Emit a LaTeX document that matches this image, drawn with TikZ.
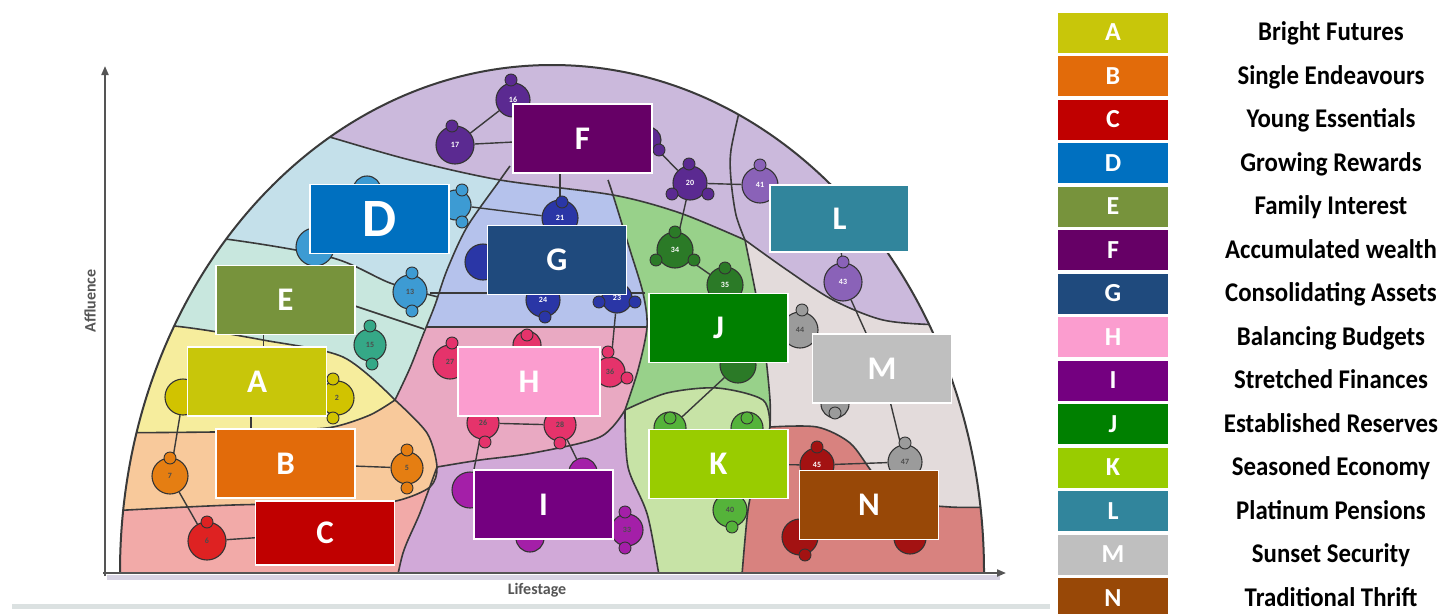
\documentclass[tikz,border=0pt]{standalone}
\usepackage{fontspec}
\setmainfont{Carlito}
\newfontfamily\legfont{Carlito}[FakeStretch=0.92]
\usetikzlibrary{arrows.meta}
\pgfdeclarelayer{regions}
\pgfdeclarelayer{conn}
\pgfdeclarelayer{dots}
\pgfsetlayers{regions,conn,dots,main}
% box colours
\definecolor{bA}{HTML}{C8C60A}
\definecolor{bB}{HTML}{E26B0A}
\definecolor{bC}{HTML}{C00000}
\definecolor{bD}{HTML}{0070C0}
\definecolor{bE}{HTML}{77933C}
\definecolor{bF}{HTML}{660066}
\definecolor{bG}{HTML}{1F4A7D}
\definecolor{bH}{HTML}{FB9DCF}
\definecolor{bI}{HTML}{740080}
\definecolor{bJ}{HTML}{008000}
\definecolor{bK}{HTML}{99CC00}
\definecolor{bL}{HTML}{31859C}
\definecolor{bM}{HTML}{BFBFBF}
\definecolor{bN}{HTML}{984807}
% region colours
\definecolor{rF}{HTML}{CBB9DC}
\definecolor{rD}{HTML}{C4E0EA}
\definecolor{rE}{HTML}{C8E7DE}
\definecolor{rG}{HTML}{B5C2EC}
\definecolor{rJ}{HTML}{98D18A}
\definecolor{rH}{HTML}{E9A9C2}
\definecolor{rI}{HTML}{D1A9D8}
\definecolor{rK}{HTML}{C7E3A6}
\definecolor{rM}{HTML}{E3DBDB}
\definecolor{rN}{HTML}{D8827F}
\definecolor{rA}{HTML}{F6ED9D}
\definecolor{rB}{HTML}{F8C99B}
\definecolor{rC}{HTML}{F2AAA8}
% dot colours
\definecolor{pF}{HTML}{5B2A91}
\definecolor{pL}{HTML}{8A62B8}
\definecolor{pG}{HTML}{2A36A6}
\definecolor{pD}{HTML}{3D9BD3}
\definecolor{pE}{HTML}{35A887}
\definecolor{pA}{HTML}{D1C300}
\definecolor{pB}{HTML}{E57E12}
\definecolor{pC}{HTML}{DE2222}
\definecolor{pH}{HTML}{E5336B}
\definecolor{pI}{HTML}{A41FA8}
\definecolor{pJ}{HTML}{2B7A27}
\definecolor{pK}{HTML}{55B33A}
\definecolor{pM}{HTML}{9B9B9B}
\definecolor{pN}{HTML}{A31212}
\definecolor{axgrey}{HTML}{555555}
\definecolor{edge}{HTML}{3A3A3A}
\definecolor{strip}{HTML}{D8D4E4}
\definecolor{barg}{HTML}{DBE1E1}
\begin{document}
\begin{tikzpicture}[x=1pt,y=-1pt,
  lab/.style={draw=white,line width=1.2pt,minimum width=139pt,minimum height=69pt,inner sep=0pt,text=white,font=\fontsize{33}{33}\selectfont\bfseries},
  legbox/.style={minimum width=110pt,minimum height=40pt,inner sep=0pt,text=white,font=\fontsize{26}{26}\selectfont\bfseries},
  legtxt/.style={anchor=base,inner sep=0pt,text=black,font=\legfont\fontsize{27}{27}\selectfont\bfseries},
  blob/.style={circle,draw=black!80,line width=1.1pt,inner sep=0pt,minimum size=#1,font=\fontsize{8}{8}\selectfont\bfseries},
  sat/.style={circle,draw=black!80,line width=0.9pt,inner sep=0pt,minimum size=12pt},
  con/.style={draw=edge,line width=1.4pt},
  bl/.style={draw=edge,line width=1.6pt},
  axis/.style={draw=axgrey,line width=2pt,-{Triangle[length=9pt,width=7pt]}},
  axlab/.style={text=axgrey,font=\fontsize{16}{16}\selectfont\bfseries,inner sep=0pt}]
\useasboundingbox (0,0) rectangle (1450,613);

% ---------- label boxes ----------
\node[lab,fill=bF] (F) at (582.5,138.5) {F};
\node[lab,fill=bD,font=\fontsize{54}{54}\selectfont\bfseries] (D) at (379.5,219) {D};
\node[lab,fill=bG] (G) at (557,260) {G};
\node[lab,fill=bE] (E) at (285.5,300) {E};
\node[lab,fill=bA] (A) at (257,381.5) {A};
\node[lab,fill=bB] (B) at (285.5,463.5) {B};
\node[lab,fill=bC,minimum height=64pt] (C) at (325,533) {C};
\node[lab,fill=bH,minimum width=142pt] (H) at (529,381.5) {H};
\node[lab,fill=bI] (I) at (543.5,504.5) {I};
\node[lab,fill=bJ] (J) at (718.5,328) {J};
\node[lab,fill=bK] (K) at (718.5,464) {K};
\node[lab,fill=bL,minimum height=67pt] (L) at (839.5,218.5) {L};
\node[lab,fill=bM] (M) at (882,368.5) {M};
\node[lab,fill=bN] (N) at (869,505) {N};

% ---------- small segment dots ----------
\begin{pgfonlayer}{dots}
% F / L
\node[blob=34pt,fill=pF,text=white!60] (n16) at (513,100) {16};
\node[sat,fill=pF] (n16s) at (511,80) {};
\node[blob=38pt,fill=pF,text=white!60] (n17) at (455,145) {17};
\node[sat,fill=pF] (n17s) at (452,126) {};
\node[blob=26pt,fill=pF] (n27f) at (648,140) {};
\node[sat,fill=pF] (n27fs) at (659,150) {};
\node[blob=34pt,fill=pF,text=white!60] (n20) at (690,183) {20};
\node[sat,fill=pF] (n20a) at (689,164) {};
\node[sat,fill=pF] (n20b) at (672,194) {};
\node[sat,fill=pF] (n20c) at (708,194) {};
\node[blob=36pt,fill=pL,text=white!60] (n41) at (760,185) {41};
\node[sat,fill=pL] (n41s) at (760,165) {};
\node[blob=38pt,fill=pL,text=white!60] (n43) at (843,282) {43};
\node[sat,fill=pL] (n43s) at (843,262) {};
% D
\node[blob=28pt,fill=pD] (d1) at (367,190) {};
\node[blob=30pt,fill=pD] (d2) at (456,205) {};
\node[sat,fill=pD] (d2a) at (462,190) {};
\node[sat,fill=pD] (d2b) at (462,222) {};
\node[blob=38pt,fill=pD] (d3) at (315,247) {};
\node[blob=34pt,fill=pD,text=black!70] (n13) at (410,292) {13};
\node[sat,fill=pD] (n13a) at (412,273) {};
\node[sat,fill=pD] (n13b) at (412,311) {};
% E
\node[blob=32pt,fill=pE,text=black!70] (n15) at (370,345) {15};
\node[sat,fill=pE] (n15a) at (370,326) {};
\node[sat,fill=pE] (n15b) at (372,364) {};
% G
\node[blob=36pt,fill=pG,text=white!60] (n21) at (560,218) {21};
\node[sat,fill=pG] (n21s) at (562,202) {};
\node[blob=36pt,fill=pG] (g2) at (483,262) {};
\node[blob=34pt,fill=pG,text=white!60] (n24) at (543,300) {24};
\node[sat,fill=pG] (n24s) at (545,317) {};
\node[blob=30pt,fill=pG,text=white!60] (n23) at (617,298) {23};
\node[sat,fill=pG] (n23a) at (599,302) {};
\node[sat,fill=pG] (n23b) at (635,302) {};
% A
\node[blob=36pt,fill=pA] (a1) at (183,397) {};
\node[blob=34pt,fill=pA,text=black!70] (n2) at (337,398) {2};
\node[sat,fill=pA] (n2a) at (333,379) {};
\node[sat,fill=pA] (n2b) at (333,418) {};
% B
\node[blob=36pt,fill=pB,text=black!70] (n7) at (170,476) {7};
\node[sat,fill=pB] (n7s) at (170,458) {};
\node[blob=32pt,fill=pB,text=black!70] (n5) at (407,468) {5};
\node[sat,fill=pB] (n5a) at (407,450) {};
\node[sat,fill=pB] (n5b) at (407,488) {};
% C
\node[blob=38pt,fill=pC,text=black!70] (n6) at (207,541) {6};
\node[sat,fill=pC] (n6s) at (207,522) {};
% H
\node[blob=34pt,fill=pH,text=black!70] (n27) at (450,362) {27};
\node[sat,fill=pH] (n27s) at (452,343) {};
\node[blob=28pt,fill=pH] (h2) at (527,345) {};
\node[sat,fill=pH] (h2s) at (527,335) {};
\node[blob=30pt,fill=pH,text=black!70] (n36) at (610,372) {36};
\node[sat,fill=pH] (n36a) at (608,352) {};
\node[sat,fill=pH] (n36b) at (627,378) {};
\node[blob=32pt,fill=pH,text=black!70] (n26) at (483,423) {26};
\node[sat,fill=pH] (n26s) at (485,442) {};
\node[blob=32pt,fill=pH,text=black!70] (n28) at (560,425) {28};
\node[sat,fill=pH] (n28s) at (560,443) {};
% I
\node[blob=36pt,fill=pI] (i1) at (470,490) {};
\node[blob=28pt,fill=pI] (i2) at (583,472) {};
\node[blob=32pt,fill=pI,text=black!70] (n33) at (627,530) {33};
\node[sat,fill=pI] (n33a) at (625,512) {};
\node[sat,fill=pI] (n33b) at (625,548) {};
\node[blob=28pt,fill=pI] (i4) at (530,538) {};
% J
\node[blob=36pt,fill=pJ,text=white!55] (n34) at (675,250) {34};
\node[sat,fill=pJ] (n34a) at (675,232) {};
\node[sat,fill=pJ] (n34b) at (656,260) {};
\node[sat,fill=pJ] (n34c) at (694,260) {};
\node[blob=36pt,fill=pJ,text=white!55] (n35) at (725,285) {35};
\node[sat,fill=pJ] (n35s) at (725,268) {};
\node[blob=36pt,fill=pJ] (j3) at (738,365) {};
% K
\node[blob=32pt,fill=pK] (k1) at (670,428) {};
\node[sat,fill=pK] (k1s) at (670,418) {};
\node[blob=32pt,fill=pK] (k2) at (747,428) {};
\node[sat,fill=pK] (k2s) at (747,418) {};
\node[blob=34pt,fill=pK,text=black!70] (n40) at (730,510) {40};
\node[sat,fill=pK] (n40s) at (732,527) {};
% M
\node[blob=36pt,fill=pM,text=black!70] (n44) at (800,330) {44};
\node[sat,fill=pM] (n44s) at (802,310) {};
\node[blob=28pt,fill=pM] (m2) at (835,404) {};
\node[sat,fill=pM] (m2s) at (835,413) {};
\node[blob=34pt,fill=pM,text=black!70] (n47) at (905,462) {47};
\node[sat,fill=pM] (n47s) at (905,443) {};
% N
\node[blob=34pt,fill=pN,text=white!55] (n45) at (817,465) {45};
\node[sat,fill=pN] (n45s) at (817,447) {};
\node[blob=36pt,fill=pN] (nn1) at (800,537) {};
\node[sat,fill=pN] (nn1s) at (805,555) {};
\node[blob=32pt,fill=pN] (nn2) at (910,538) {};
\end{pgfonlayer}

% ---------- connectors ----------
\begin{pgfonlayer}{conn}
\draw[con] (n17) -- (n16);
\draw[con] (n17) -- (F);
\draw[con] (F) -- (n27f);
\draw[con] (n27f) -- (n20);
\draw[con] (n20) -- (n41);
\draw[con] (n20) -- (n34);
\draw[con] (n34) -- (n35);
\draw[con] (n21) -- (n21 |- F.south);
\draw[con] (d2) -- (n21);
\draw[con] (L) -- (n43);
\draw[con] (n43) -- (M);
\draw[con] (M) -- (n47);
\draw[con] (n47) -- (n45);
\draw[con] (n45) -- (K);
\draw[con] ([xshift=-22pt]E.south) -- ([xshift=-22pt]E.south |- A.north);
\draw[con] ([xshift=-6pt]A.south) -- ([xshift=-6pt]A.south |- B.north);
\draw[con] (a1) -- (n7);
\draw[con] (n7) -- (n6);
\draw[con] (n6) -- (C);
\draw[con] (B) -- (n5);
\draw[con] (n26) -- (n28);
\draw[con] (n26) -- (i1);
\draw[con] (n28) -- (i2);
\draw[con] (n23) -- (n36);
\draw[con] (j3) -- (k1);
\end{pgfonlayer}

% ---------- regions ----------
\begin{pgfonlayer}{regions}
\fill[white] (0,0) rectangle (1450,613);
\begin{scope}
\clip (120,572) arc[start angle=180,end angle=0,x radius=432pt,y radius=507pt] -- cycle;
\fill[rD] (0,0) rectangle (1100,700);
\begin{scope}
\clip (100,0) -- (510,0) -- plot[smooth] coordinates {(510,166) (500,180) (467,227) (447,270) (435,305) (423,335) (410,368) (395,400)} -- (395,700) -- (0,700) -- cycle;
\fill[rE] plot[smooth] coordinates {(90,224) (233,240) (333,258) (390,283) (438,297)} -- (520,297) -- (520,700) -- (90,700) -- cycle;
\fill[rA] plot[smooth] coordinates {(90,319) (183,327) (263,340) (343,357) (395,400)} -- (395,700) -- (90,700) -- cycle;
\end{scope}
\begin{scope}
\clip (510,0) -- plot[smooth] coordinates {(510,166) (500,180) (467,227) (447,270) (435,305) (423,335) (410,368) (395,400)} -- (395,700) -- (1100,700) -- (1100,0) -- cycle;
\fill[rG] (0,0) rectangle (1100,700);
\fill[rH] (0,327) rectangle (1100,700);
\fill[rJ] plot[smooth] coordinates {(608,180) (613,195) (630,250) (643,293) (647,327) (638,370) (625,410)} -- (625,700) -- (1100,700) -- (1100,0) -- (608,0) -- cycle;
\fill[rM] plot[smooth] coordinates {(745,240) (757,300) (765,350) (770,400) (770,427)} -- (770,700) -- (1100,700) -- (1100,200) -- cycle;
\fill[rN] plot[smooth] coordinates {(770,427) (817,427) (850,443) (873,473) (900,500) (950,507) (1000,507)} -- (1100,507) -- (1100,700) -- (700,700) -- (700,427) -- cycle;
\fill[rI] plot[smooth] coordinates {(437,467) (480,460) (533,453) (600,437) (625,410)} -- (700,410) -- (700,700) -- (380,700) -- (380,475) -- cycle;
\fill[rK] plot[smooth] coordinates {(625,410) (628,467) (648,517) (663,600)} -- plot[smooth] coordinates {(740,600) (748,510) (758,470) (770,427)} -- plot[smooth] coordinates {(770,427) (763,400) (717,388) (667,393) (625,410)} -- cycle;
\end{scope}
\fill[rC] (90,460) -- (437,460) -- plot[smooth] coordinates {(437,467) (420,513) (403,553) (393,600)} -- (90,700) -- cycle;
\fill[rB] plot[smooth] coordinates {(90,433) (213,432) (290,430) (333,427) (370,415) (395,400)} -- plot[smooth] coordinates {(395,400) (427,433) (437,467) (430,487) (400,500) (367,503) (233,505) (90,512)} -- cycle;
\fill[rF] (90,0) -- plot[smooth] coordinates {(290,125) (333,138) (410,160) (500,180) (613,195) (680,213) (745,240)} -- plot[smooth] coordinates {(745,240) (787,270) (833,300) (883,320) (940,325) (1000,326)} -- (1100,0) -- cycle;
% boundary lines
\draw[bl] plot[smooth] coordinates {(290,125) (333,138) (410,160) (500,180) (613,195) (680,213) (745,240)};
\draw[bl] plot[smooth] coordinates {(745,240) (787,270) (833,300) (883,320) (940,325) (1000,326)};
\draw[bl] plot[smooth] coordinates {(742,100) (731,150) (731,180) (736,215) (745,240)};
\draw[bl] plot[smooth] coordinates {(510,166) (500,180) (467,227) (447,270) (435,305) (423,335) (410,368) (395,400)};
\draw[bl] plot[smooth] coordinates {(90,224) (233,240) (333,258) (390,283) (438,297)};
\draw[bl] (355,306) -- (424,329);
\draw[bl] (426,327) -- (647,327);
\draw[bl] (430,293) -- (645,293);
\draw[bl] plot[smooth] coordinates {(608,180) (613,195) (630,250) (643,293) (647,327) (638,370) (625,410)};
\draw[bl] plot[smooth] coordinates {(745,240) (757,300) (765,350) (770,400) (770,427)};
\draw[bl] plot[smooth] coordinates {(770,427) (817,427) (850,443) (873,473) (900,500) (950,507) (1000,507)};
\draw[bl] plot[smooth] coordinates {(437,467) (480,460) (533,453) (600,437) (625,410)};
\draw[bl] plot[smooth] coordinates {(625,410) (667,393) (717,388) (763,400) (770,427)};
\draw[bl] plot[smooth] coordinates {(625,410) (628,467) (648,517) (663,600)};
\draw[bl] plot[smooth] coordinates {(740,600) (748,510) (758,470) (770,427)};
\draw[bl] plot[smooth] coordinates {(437,467) (420,513) (403,553) (393,600)};
\draw[bl] plot[smooth] coordinates {(90,319) (183,327) (263,340) (343,357) (395,400)};
\draw[bl] plot[smooth] coordinates {(90,433) (213,432) (290,430) (333,427) (370,415) (395,400)};
\draw[bl] plot[smooth] coordinates {(395,400) (427,433) (437,467) (430,487) (400,500) (367,503) (233,505) (90,512)};
\end{scope}
\draw[bl,line width=2pt] (120,572) arc[start angle=180,end angle=0,x radius=432pt,y radius=507pt];
% axes
\fill[strip] (107,575) rectangle (1000,580);
\draw[axis] (105,576) -- (105,66);
\draw[axis] (103,573) -- (1006,573);
\fill[barg] (12,604) rectangle (1050,609);
\end{pgfonlayer}
\node[axlab,rotate=90] (aff) at (90,301) {Affluence};
\node[axlab] (lif) at (537,590) {Lifestage};

% ---------- legend ----------
\node[legbox,fill=bA] (kA) at (1113,32.5) {A};
\node[legbox,fill=bB] (kB) at (1113,76) {B};
\node[legbox,fill=bC] (kC) at (1113,119.5) {C};
\node[legbox,fill=bD] (kD) at (1113,163) {D};
\node[legbox,fill=bE] (kE) at (1113,206.5) {E};
\node[legbox,fill=bF] (kF) at (1113,250) {F};
\node[legbox,fill=bG] (kG) at (1113,293.5) {G};
\node[legbox,fill=bH] (kH) at (1113,337) {H};
\node[legbox,fill=bI] (kI) at (1113,380.5) {I};
\node[legbox,fill=bJ] (kJ) at (1113,424) {J};
\node[legbox,fill=bK] (kK) at (1113,467.5) {K};
\node[legbox,fill=bL] (kL) at (1113,511) {L};
\node[legbox,fill=bM] (kM) at (1113,554.5) {M};
\node[legbox,fill=bN] (kN) at (1113,598) {N};
\node[legtxt] (tA) at (1331,40.5) {Bright Futures};
\node[legtxt] (tB) at (1331,84) {Single Endeavours};
\node[legtxt] (tC) at (1331,127.5) {Young Essentials};
\node[legtxt] (tD) at (1331,171) {Growing Rewards};
\node[legtxt] (tE) at (1331,214.5) {Family Interest};
\node[legtxt] (tF) at (1331,258) {Accumulated wealth};
\node[legtxt] (tG) at (1331,301.5) {Consolidating Assets};
\node[legtxt] (tH) at (1331,345) {Balancing Budgets};
\node[legtxt] (tI) at (1331,388.5) {Stretched Finances};
\node[legtxt] (tJ) at (1331,432) {Established Reserves};
\node[legtxt] (tK) at (1331,475.5) {Seasoned Economy};
\node[legtxt] (tL) at (1331,519) {Platinum Pensions};
\node[legtxt] (tM) at (1331,562.5) {Sunset Security};
\node[legtxt] (tN) at (1331,606) {Traditional Thrift};
\end{tikzpicture}
\end{document}
